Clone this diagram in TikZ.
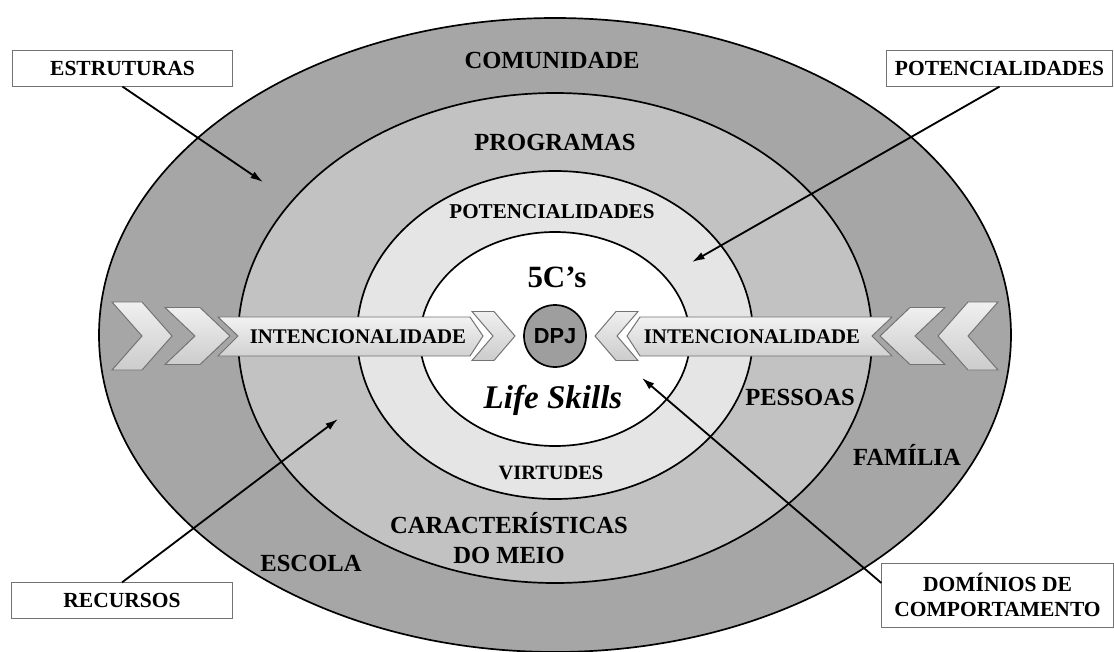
\documentclass[tikz,border=0pt]{standalone}
\usepackage{fontspec}
\setmainfont{Liberation Serif}
\newfontfamily\dpjfont{Liberation Sans}
\usetikzlibrary{arrows.meta,positioning}

\tikzset{
  ring/.style={draw=black,line width=1.2pt},
  ringlabel/.style={font=\fontsize{17.5}{20}\selectfont\bfseries,align=center,inner sep=0pt},
  innerlabel/.style={font=\fontsize{15}{18}\selectfont\bfseries,inner sep=0pt},
  bandlabel/.style={font=\fontsize{14.8}{17}\selectfont\bfseries,inner sep=0pt},
  infobox/.style={draw=black!55,fill=white,line width=0.7pt,align=center,
    font=\fontsize{15.3}{17.8}\selectfont\bfseries,inner sep=0pt},
  pointer/.style={-{Latex[length=9pt,width=5.5pt]},line width=1.3pt},
  chevron/.style={draw=black!55,line width=0.7pt,top color=black!6,bottom color=black!20},
  band/.style={draw=black!55,line width=0.7pt,top color=black!5,bottom color=black!18},
}

\begin{document}
\begin{tikzpicture}[x=0.025cm,y=-0.025cm]
    \useasboundingbox (0,0) rectangle (1114,652);

    \coordinate (O) at (555,336);
    \foreach \rx/\ry/\cy/\tone in {456/317/335/35,317/245/338/24,198/164/335/10,135/107/339/0}{%
        \draw[ring,fill=black!\tone] (555,\cy) ellipse [x radius=\rx,y radius=\ry];
    }

    \draw[band] (218,317) -- (470,317) -- (483,336) -- (470,356) -- (218,356) -- (238,336) -- cycle;
    \draw[band] (892,317) -- (640,317) -- (627,336) -- (640,356) -- (892,356) -- (872,336) -- cycle;
    \foreach \x/\w/\d/\h in {112/60/30/34,165/65/30/28.5,472/43/21/24.5}{%
        \draw[chevron] (\x,{336-\h}) -- ({\x+\w-\d},{336-\h}) -- ({\x+\w},336)
          -- ({\x+\w-\d},{336+\h}) -- (\x,{336+\h}) -- ({\x+\d},336) -- cycle;
        \draw[chevron] ({1110-\x},{336-\h}) -- ({1110-\x-\w+\d},{336-\h}) -- ({1110-\x-\w},336)
          -- ({1110-\x-\w+\d},{336+\h}) -- ({1110-\x},{336+\h}) -- ({1110-\x-\d},336) -- cycle;
    }

    \node[ringlabel] (comunidade) at (552,60) {COMUNIDADE};
    \node[ringlabel] (programas) at (555,142) {PROGRAMAS};
    \node[innerlabel] (potin) at (552,212) {POTENCIALIDADES};
    \node[font=\fontsize{22}{24}\selectfont\bfseries,inner sep=0pt] (cinco) at (557,277) {5C’s};
    \node[draw=black,line width=1.2pt,fill=black!38,circle,minimum size=1.55cm,inner sep=0pt,
          font=\dpjfont\fontsize{15.5}{17}\selectfont\bfseries] (dpj) at (O) {DPJ};
    \node[font=\fontsize{23.5}{26}\selectfont\bfseries\itshape,inner sep=0pt] (life) at (553,400) {Life Skills};
    \node[innerlabel,font=\fontsize{14.5}{17}\selectfont\bfseries] (virtudes) at (551,473) {VIRTUDES};
    \node[ringlabel,font=\fontsize{17.5}{21.3}\selectfont\bfseries] (meio) at (509,538) {CARACTERÍSTICAS\\DO MEIO};
    \node[ringlabel] (escola) at (311,563) {ESCOLA};
    \node[ringlabel] (pessoas) at (800,397) {PESSOAS};
    \node[ringlabel] (familia) at (907,455) {FAMÍLIA};
    \node[bandlabel] (intl) at (358,337) {INTENCIONALIDADE};
    \node[bandlabel] (intr) at (752,337) {INTENCIONALIDADE};

    \node[infobox,minimum width=5.52cm,minimum height=0.88cm] (estruturas) at (122.5,68.5) {ESTRUTURAS};
    \node[infobox,minimum width=5.67cm,minimum height=0.88cm] (potbox) at (999.5,68.5) {POTENCIALIDADES};
    \node[infobox,minimum width=5.5cm,minimum height=0.88cm] (recursos) at (122,600.5) {RECURSOS};
    \node[infobox,minimum width=5.78cm,minimum height=1.6cm] (dominios) at (997.5,595) {DOMÍNIOS DE\\COMPORTAMENTO};

    \coordinate (estrEnd) at (263,182);
    \coordinate (potEnd) at (692,262);
    \coordinate (recEnd) at (338,419);
    \coordinate (domEnd) at (642,378);
    \draw[pointer] (estruturas.south) -- (estrEnd);
    \draw[pointer] (potbox.south) -- (potEnd);
    \draw[pointer] (recursos.north) -- (recEnd);
    \draw[pointer] ([yshift=0.3cm]dominios.west) -- (domEnd);
\end{tikzpicture}
\end{document}
